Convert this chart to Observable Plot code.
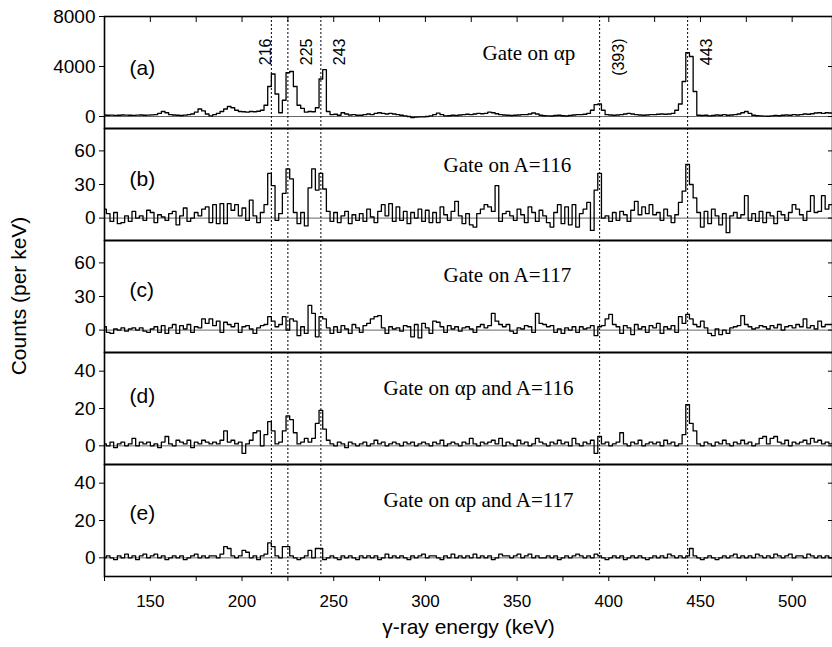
<!DOCTYPE html>
<html><head><meta charset="utf-8">
<script src="https://cdn.jsdelivr.net/npm/d3@7"></script>
<script src="https://cdn.jsdelivr.net/npm/@observablehq/plot@0.6"></script>
<style>
body{margin:0;background:#fff;}
#chart{position:relative;width:832px;height:647px;font-family:"Liberation Sans",Arial,sans-serif;overflow:hidden;}
#chart svg{position:absolute;left:0;}
#ylabel{position:absolute;left:19px;top:296px;transform:translate(-50%,-50%) rotate(-90deg);font-size:21px;white-space:nowrap;color:#000;}
</style></head><body><div id="chart"><div id="ylabel">Counts (per keV)</div></div>
<script>
// ---- data ----
const binStart = 124, binWidth = 2; // histogram bins (keV)
const xTicks = [125,150,175,200,225,250,275,300,325,350,375,400,425,450,475,500];
const xTickLabels = [150,200,250,300,350,400,450,500];
const peakLines = [216,225,243,395,443];
const peakLabels = ["216","225","243","(393)","443"];
const panelLabels = ["(a)","(b)","(c)","(d)","(e)"];
const gateLabels = ["Gate on αp","Gate on A=116","Gate on A=117","Gate on αp and A=116","Gate on αp and A=117"];
const yTicksA = [0,4000,8000];
const yTicksB = [0,30,60];
const yTicksC = [0,30,60];
const yTicksD = [0,20,40];
const yTicksE = [0,20,40];

const countsA = [
 120,100,110,90,100,120,110,100,90,110,
 120,100,110,130,150,250,400,300,150,120,
 100,80,110,150,200,350,600,450,200,50,
 150,250,400,600,800,700,500,400,380,350,
 400,380,420,500,900,2400,3400,1800,300,1300,
 3500,3600,2400,900,650,350,400,380,700,3000,
 3750,400,150,180,100,300,200,120,150,100,
 100,150,200,150,250,300,250,200,250,200,
 150,100,50,0,-80,-50,-30,-30,0,50,
 150,270,150,50,60,100,80,120,150,180,
 150,200,250,220,250,350,300,220,150,120,
 100,80,100,120,150,150,200,280,200,100,
 60,50,40,80,100,60,40,80,120,150,
 150,180,250,500,950,1000,500,150,120,100,
 120,150,200,250,200,150,120,100,120,150,
 150,180,200,180,200,250,500,1000,2800,5100,
 4800,2000,100,80,100,50,80,120,100,150,
 100,120,150,200,300,400,250,100,60,50,
 30,20,50,80,60,100,120,100,150,120,
 150,200,180,220,280,300,250,300,280,250];

const countsB = [
 8,4,-3,5,-5,-4,2,-3,6,0,
 2,-2,7,5,-4,3,1,-2,4,6,
 -6,2,9,-3,0,5,2,8,10,-4,
 12,-5,13,-5,13,7,12,2,9,-2,
 16,2,-4,5,12,40,29,-2,4,22,
 44,35,5,-5,5,-7,27,44,25,40,
 26,6,-3,5,-4,2,6,-5,3,-2,
 4,-3,8,1,-4,6,12,2,13,-3,
 10,-2,6,-5,5,0,8,-3,7,-4,
 5,-4,10,3,-2,6,15,2,-5,4,
 -6,-8,4,8,12,10,6,29,-3,4,
 6,2,-2,8,3,-4,10,5,-3,7,
 2,-4,-8,5,12,-5,10,-6,12,-8,
 4,8,14,-11,25,40,0,2,-3,5,
 -2,6,3,-3,7,15,3,10,4,12,
 3,5,-2,8,2,-4,3,14,24,48,
 30,18,5,-8,6,-5,8,2,-6,4,
 -13,2,5,0,3,20,-2,4,-3,6,
 -4,5,2,-5,6,3,-2,5,12,8,
 3,-2,6,20,5,6,20,8,12,4];

const countsC = [
 3,-2,-3,1,0,2,-1,1,2,0,
 2,-1,-2,1,3,-2,4,-3,2,5,
 -3,4,1,5,-2,3,2,10,6,10,
 4,8,-2,7,5,3,6,-2,3,4,
 1,-3,2,4,5,12,8,3,5,12,
 0,10,8,-5,3,-3,22,15,-6,12,
 10,2,-3,3,-2,4,1,-3,5,2,
 -2,4,6,10,12,13,2,-3,3,1,
 2,-1,4,3,-6,5,-7,6,2,-3,
 8,7,3,-2,4,1,3,-1,2,3,
 1,-2,3,5,2,4,15,8,5,3,
 5,-1,-3,2,1,4,3,-2,15,6,
 5,3,4,-2,1,-3,2,0,3,-2,
 3,1,2,4,-5,3,4,10,14,5,
 3,-3,4,2,-4,5,1,3,-2,4,
 2,6,-3,3,1,4,-2,12,6,14,
 10,5,3,8,2,-3,-5,1,-4,0,
 -3,2,3,4,13,5,3,1,2,4,
 3,1,4,2,5,0,3,4,2,5,
 3,10,2,4,1,8,3,5,5,2];

const countsD = [
 1,0,2,-1,1,2,0,1,4,0,
 2,1,2,0,1,-1,2,5,1,0,
 3,2,1,3,-1,2,1,3,2,1,
 2,1,3,8,2,3,1,2,-4,1,
 3,7,8,0,6,13,8,1,2,8,
 16,14,7,1,2,4,2,4,12,19,
 9,3,1,0,2,1,-1,2,1,0,
 1,2,0,1,3,1,2,0,1,2,
 1,0,2,1,2,0,1,2,1,0,
 2,1,3,0,1,2,1,0,2,1,
 4,1,0,2,1,2,3,1,4,0,
 2,1,0,3,1,2,0,1,4,2,
 1,0,2,1,3,1,2,0,4,1,
 0,2,1,3,-4,5,1,2,0,1,
 2,7,1,0,2,1,3,0,1,2,
 1,2,0,3,1,2,0,1,6,22,
 12,8,1,0,2,1,0,2,1,3,
 1,0,2,1,3,1,2,0,1,4,
 5,1,4,5,2,1,3,0,2,1,
 2,3,1,4,2,3,1,2,1,2];

const countsE = [
 0,1,0,-1,1,0,2,0,1,-1,
 1,2,0,1,2,0,1,-1,0,1,
 0,1,-1,0,1,2,0,1,0,1,
 1,0,2,6,5,1,0,1,4,3,
 0,1,-1,1,2,8,6,1,0,6,
 6,1,0,-1,0,1,4,0,5,5,
 -1,0,1,0,-1,1,0,1,0,-1,
 1,0,1,0,1,-1,0,2,0,1,
 0,1,0,-1,1,0,1,2,0,1,
 1,0,-1,1,0,2,0,1,0,1,
 0,2,0,1,0,1,-1,0,2,1,
 1,0,1,2,0,1,2,0,1,0,
 0,1,0,1,-1,0,1,0,1,2,
 1,0,1,0,2,1,0,-1,0,1,
 0,1,-1,0,1,0,1,0,-1,0,
 1,0,1,0,2,1,0,1,0,1,
 5,1,0,-1,0,1,0,-1,0,1,
 0,1,2,0,1,0,1,0,2,1,
 0,1,0,2,1,0,1,2,0,1,
 1,0,2,1,0,1,0,1,0,1];

// ---- layout (scales & positions) ----
const series = [countsA, countsB, countsC, countsD, countsE];
const yTicksAll = [yTicksA, yTicksB, yTicksC, yTicksD, yTicksE];
const yDomains = [[-960,8000],[-20,80],[-20,80],[-10,50],[-10,50]];
const layout = [
 {top:0,   height:128, mt:16, mb:0,  labelDy:44, gateDx:378, gateDy:29},
 {top:128, height:112, mt:0,  mb:0,  labelDy:43, gateDx:339, gateDy:29},
 {top:240, height:112, mt:0,  mb:0,  labelDy:42, gateDx:339, gateDy:27},
 {top:352, height:112, mt:0,  mb:0,  labelDy:36, gateDx:279, gateDy:28},
 {top:464, height:183, mt:0,  mb:71, labelDy:41, gateDx:279, gateDy:28}
];

const chart = document.getElementById("chart");

series.forEach((vals, p) => {
  const L = layout[p];
  const data = vals.map((v, i) => ({e: binStart + i * binWidth, c: v}));
  const marks = [
    Plot.ruleY([0], {stroke: "#666", strokeWidth: 1}),
    Plot.ruleX(peakLines, {stroke: "#000", strokeWidth: 1, strokeDasharray: "2,2"}),
    Plot.line(data, {x: "e", y: "c", curve: "step-after", stroke: "#000", strokeWidth: 1.3, clip: true}),
    Plot.frame({stroke: "#000", strokeWidth: 1.6}),
    Plot.axisY({ticks: yTicksAll[p], tickSize: 5, tickPadding: 4, fontSize: 19, label: null, tickFormat: d => String(d)}),
    Plot.axisY({anchor: "right", ticks: yTicksAll[p], tickSize: 5, dx: -5, tickFormat: () => "", label: null}),
    Plot.text([panelLabels[p]], {frameAnchor: "top-left", dx: 25, dy: L.labelDy, textAnchor: "start", fontSize: 21}),
    Plot.text([gateLabels[p]], {frameAnchor: "top-left", dx: L.gateDx, dy: L.gateDy, textAnchor: "start", fontSize: 21, fontFamily: "'Liberation Serif', 'Times New Roman', serif"})
  ];
  if (p === 0) {
    marks.push(Plot.axisX({anchor: "top", ticks: xTicks, tickSize: 5, dy: 5, tickFormat: () => "", label: null}));
    marks.push(Plot.text(peakLines, {x: d => d, text: (d, i) => peakLabels[i], filter: (d, i) => i === 0,
      frameAnchor: "top", dy: 22, dx: -12, rotate: -90, textAnchor: "end", fontSize: 16}));
    marks.push(Plot.text(peakLines, {x: d => d, text: (d, i) => peakLabels[i], filter: (d, i) => i > 0,
      frameAnchor: "top", dy: 22, dx: 13, rotate: -90, textAnchor: "end", fontSize: 16}));
  }
  if (p === 4) {
    marks.push(Plot.axisX({ticks: xTicks, tickSize: 5, tickPadding: 13, fontSize: 17, label: null,
      tickFormat: d => xTickLabels.includes(d) ? String(d) : ""}));
    marks.push(Plot.text(["γ-ray energy (keV)"], {frameAnchor: "bottom", dy: 57, fontSize: 21}));
  }
  const plot = Plot.plot({
    width: 832, height: L.height,
    marginLeft: 104, marginRight: 0, marginTop: L.mt, marginBottom: L.mb,
    x: {domain: [125, 522], axis: (p === 0 || p === 4) ? undefined : null},
    y: {domain: yDomains[p]},
    style: {background: "transparent", overflow: "visible", fontFamily: "'Liberation Sans', Arial, sans-serif", fontSize: "19px", color: "#000"},
    marks
  });
  plot.style.top = L.top + "px";
  chart.appendChild(plot);
});
</script></body></html>
